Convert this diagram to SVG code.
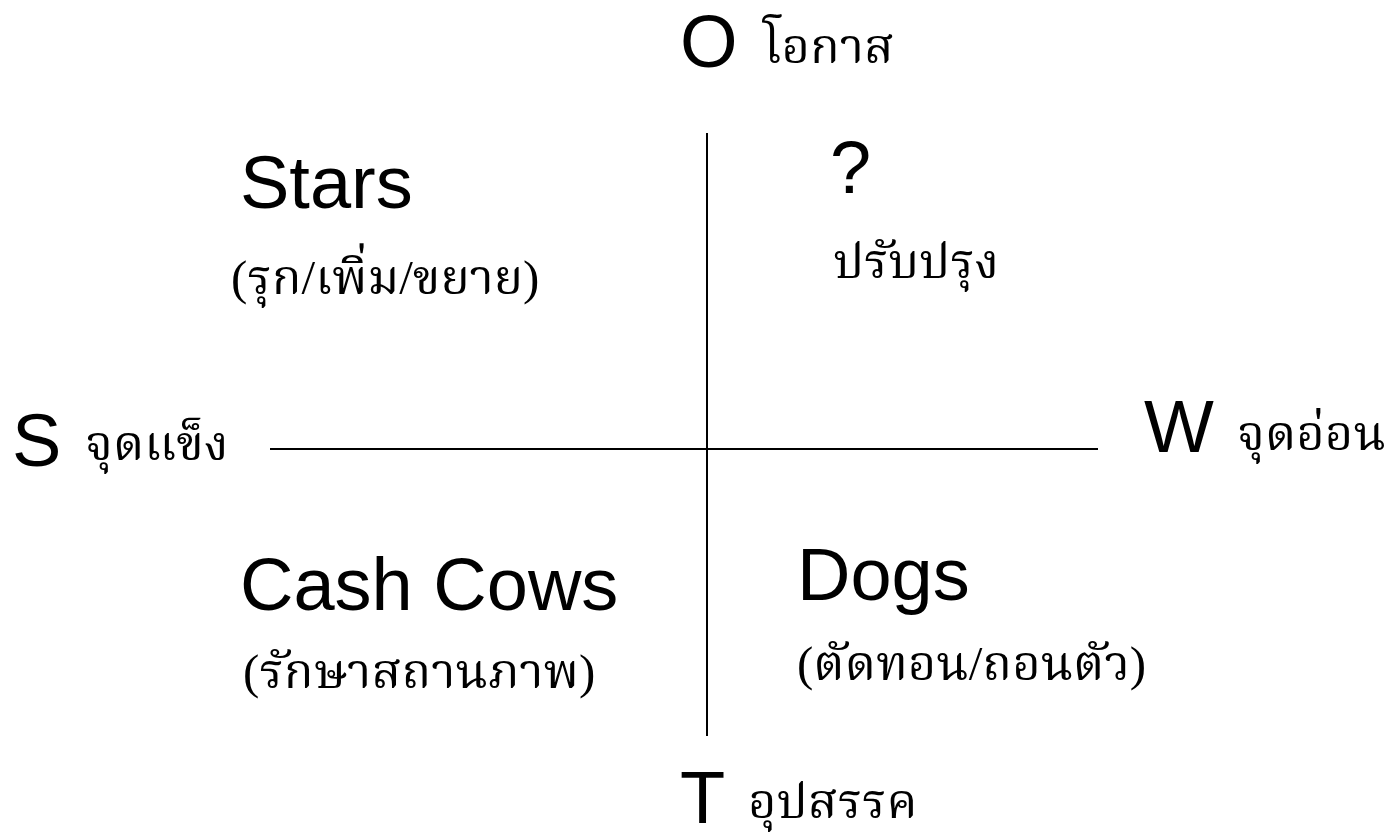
<svg xmlns="http://www.w3.org/2000/svg" width="1390" height="837" viewBox="0 0 1390 837">
<style>
.lat{font-family:"Liberation Sans",Arial,sans-serif;font-size:74px;fill:#000}
.th{font-family:"Liberation Serif","Norasi","Noto Serif Thai","Tlwg Typo","Loma","DejaVu Serif",serif;font-size:49px;fill:#000}
.ax{stroke:#000;stroke-width:2;fill:none}
</style>
<rect width="1390" height="837" fill="#fff"/>
<g id="connectors">
<line class="ax" x1="270" y1="449" x2="1098" y2="449"/>
<line class="ax" x1="707" y1="133" x2="707" y2="736"/>
</g>
<g id="O"><text class="lat" x="680" y="67">O</text><text class="th" x="763" y="63">โอกาส</text></g>
<g id="T"><text class="lat" x="680" y="823">T</text><text class="th" x="748" y="818">อุปสรรค</text></g>
<g id="S"><text class="lat" x="12" y="466">S</text><text class="th" x="85" y="460">จุดแข็ง</text></g>
<g id="W"><text class="lat" x="1144" y="452">W</text><text class="th" x="1237" y="450">จุดอ่อน</text></g>
<g id="stars"><text class="lat" x="240" y="208">Stars</text><text class="th" x="231" y="294">(รุก/เพิ่ม/ขยาย)</text></g>
<g id="question"><text class="lat" x="830" y="193">?</text><text class="th" x="833" y="278">ปรับปรุง</text></g>
<g id="cashcows"><text class="lat" x="240" y="610">Cash Cows</text><text class="th" x="243" y="688">(รักษาสถานภาพ)</text></g>
<g id="dogs"><text class="lat" x="797" y="600">Dogs</text><text class="th" x="797" y="680">(ตัดทอน/ถอนตัว)</text></g>
</svg>
